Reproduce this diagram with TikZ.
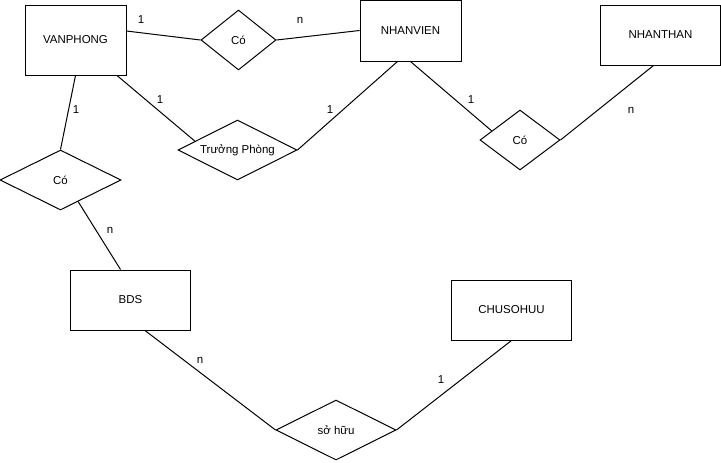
\documentclass[tikz,border=0pt]{standalone}
\usepackage{fontspec}
\setmainfont{Liberation Sans}
\usetikzlibrary{shapes.geometric,calc}
\tikzset{
  ent/.style={draw, line width=0.75pt, rectangle, inner sep=0pt, font=\fontsize{8.6pt}{10pt}\selectfont},
  rel/.style={draw, line width=0.75pt, diamond, inner sep=0pt, font=\fontsize{8.6pt}{10pt}\selectfont},
  conn/.style={line width=0.75pt},
  card/.style={inner sep=0pt, font=\fontsize{8.6pt}{10pt}\selectfont}
}
\begin{document}
\begin{tikzpicture}[x=0.75pt,y=-0.75pt]
\useasboundingbox (0,0) rectangle (721,462);
% entities
\node[ent, minimum width=101*0.75pt, minimum height=70*0.75pt] (vp) at (75.5,40) {VANPHONG};
\node[ent, minimum width=101*0.75pt, minimum height=61*0.75pt] (nv) at (410.5,30.5) {NHANVIEN};
\node[ent, minimum width=120*0.75pt, minimum height=60*0.75pt] (nt) at (660.5,35) {NHANTHAN};
\node[ent, minimum width=120*0.75pt, minimum height=60*0.75pt] (bds) at (130.5,300) {BDS};
\node[ent, minimum width=120*0.75pt, minimum height=60*0.75pt] (ch) at (511.5,310) {CHUSOHUU};
% relationships
\node[rel, aspect=1.25, minimum width=75*0.75pt, minimum height=60*0.75pt] (c1) at (238.5,40) {Có};
\node[rel, aspect=2, minimum width=119*0.75pt, minimum height=60*0.75pt] (tp) at (237.5,150) {Trưởng Phòng};
\node[rel, aspect=1.33, minimum width=80*0.75pt, minimum height=60*0.75pt] (c2) at (520,140) {Có};
\node[rel, aspect=2, minimum width=121*0.75pt, minimum height=60*0.75pt] (c3) at (60.5,180) {Có};
\node[rel, aspect=2, minimum width=120*0.75pt, minimum height=60*0.75pt] (sh) at (336,430) {sở hữu};
% connectors
\draw[conn] ($(vp.east)+(0,-9)$) -- (c1.west);
\draw[conn] (c1.east) -- (nv.west);
\draw[conn] ($(vp.south)+(41.5,0)$) -- ($(tp.west)!0.29!(tp.north)$);
\draw[conn] (tp.east) -- ($(nv.south)+(-13,0)$);
\draw[conn] (nv.south) -- ($(c2.west)!0.3!(c2.north)$);
\draw[conn] (c2.east) -- ($(nt.south)+(-7,0)$);
\draw[conn] (vp.south) -- (c3.north);
\draw[conn] ($(c3.south)!0.29!(c3.east)$) -- ($(bds.north)+(-10,0)$);
\draw[conn] ($(bds.south)+(14.5,0)$) -- (sh.west);
\draw[conn] (sh.east) -- (ch.south);
% cardinalities
\node[card] (l1) at (141,20) {1};
\node[card] (l2) at (300,20) {n};
\node[card] (l3) at (160,100) {1};
\node[card] (l4) at (330,110) {1};
\node[card] (l5) at (471,100) {1};
\node[card] (l6) at (631,110) {n};
\node[card] (l7) at (76,110) {1};
\node[card] (l8) at (110,230) {n};
\node[card] (l9) at (200,360) {n};
\node[card] (l10) at (441,380) {1};
\end{tikzpicture}
\end{document}
